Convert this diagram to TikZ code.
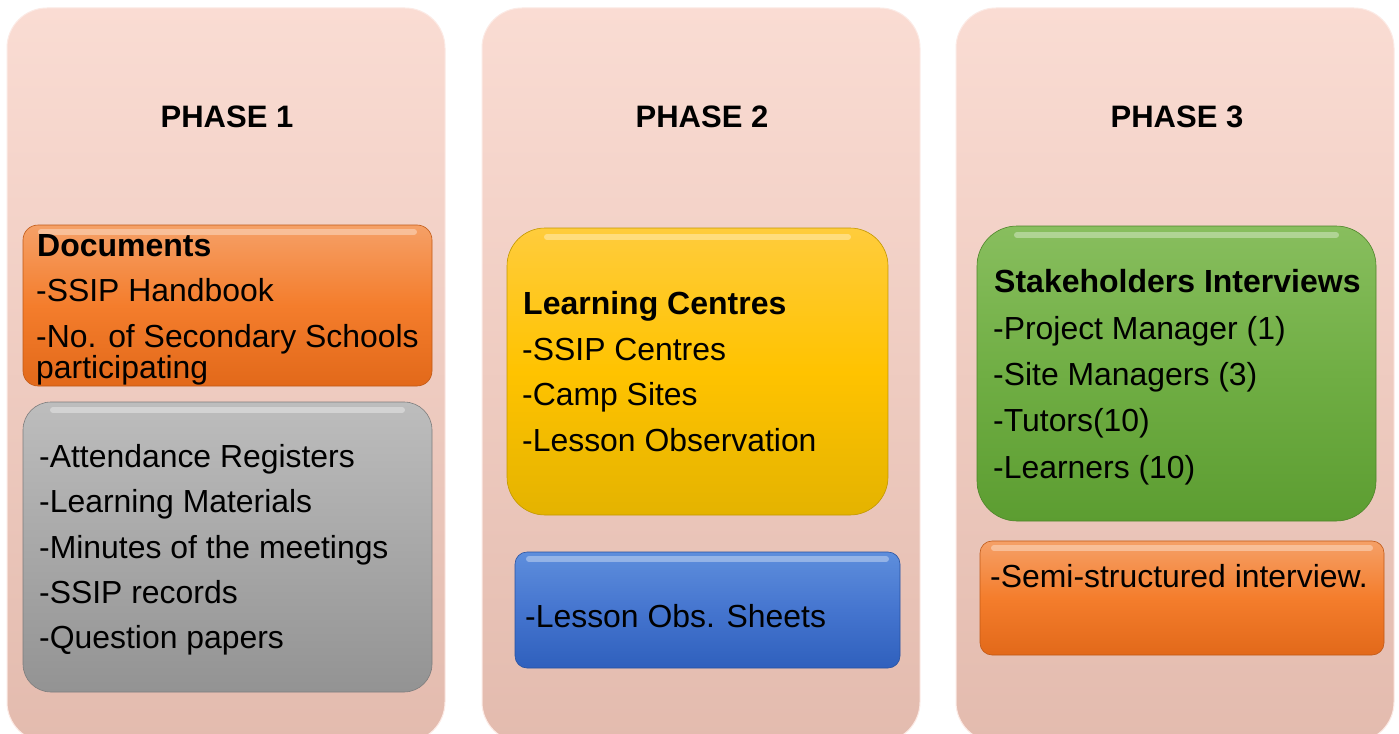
\documentclass[tikz,border=0pt]{standalone}
\usepackage{fontspec}
\setmainfont{Liberation Sans}
\begin{document}
\begin{tikzpicture}[x=1pt,y=-1pt,
  panel/.style={rectangle,rounded corners=40pt,inner sep=0pt,outer sep=0pt,minimum width=438pt,minimum height=734pt,top color=panelTop,bottom color=panelBot,draw=panelTop!60!white,line width=1pt},
  gbox/.style={rectangle,inner sep=0pt,outer sep=0pt,draw=#1Bot!85!black,line width=0.6pt,top color=#1Top,bottom color=#1Bot,middle color=#1Mid},
  phase/.style={font=\fontsize{31}{37}\selectfont\bfseries,inner sep=0pt,anchor=base},
  hd/.style={font=\fontsize{32}{38}\selectfont\bfseries,inner sep=0pt,anchor=base west},
  ln/.style={font=\fontsize{31.9}{38}\selectfont,inner sep=0pt,anchor=base west},
  gloss/.style={white,opacity=0.35,line width=6pt,line cap=round}
]
\definecolor{panelTop}{HTML}{FADCD3}
\definecolor{panelBot}{HTML}{E3BBAE}
\definecolor{orTop}{HTML}{F5A067}
\definecolor{orMid}{HTML}{F47D2C}
\definecolor{orBot}{HTML}{E2691A}
\definecolor{grTop}{HTML}{BDBDBD}
\definecolor{grMid}{HTML}{A8A8A8}
\definecolor{grBot}{HTML}{939393}
\definecolor{yeTop}{HTML}{FFCC3C}
\definecolor{yeMid}{HTML}{FFC300}
\definecolor{yeBot}{HTML}{E4B300}
\definecolor{blTop}{HTML}{5E8EDC}
\definecolor{blMid}{HTML}{4575CF}
\definecolor{blBot}{HTML}{2F60BD}
\definecolor{gnTop}{HTML}{88BE5E}
\definecolor{gnMid}{HTML}{70AE44}
\definecolor{gnBot}{HTML}{5C9D31}

\useasboundingbox (0,0) rectangle (1399,733);
\fill[white] (0,0) rectangle (1399,733);
\begin{scope}
\clip (0,0) rectangle (1399,733);
% panels
\node[panel] (p1) at (226,375) {};
\node[panel] (p2) at (701,375) {};
\node[panel] (p3) at (1175,375) {};

% boxes
\node[gbox=or,rounded corners=15pt,minimum width=409pt,minimum height=161pt] (doc) at (227.5,305.5) {};
\node[gbox=gr,rounded corners=28pt,minimum width=409pt,minimum height=290pt] (gray) at (227.5,547) {};
\node[gbox=ye,rounded corners=38pt,minimum width=381pt,minimum height=287pt] (yel) at (697.5,371.5) {};
\node[gbox=bl,rounded corners=12pt,minimum width=385pt,minimum height=116pt] (blue) at (707.5,610) {};
\node[gbox=gn,rounded corners=40pt,minimum width=399pt,minimum height=295pt] (green) at (1176.5,373.5) {};
\node[gbox=or,rounded corners=12pt,minimum width=404pt,minimum height=114pt] (semi) at (1182,598) {};
\end{scope}

% gloss highlights
\draw[gloss] ([xshift=18pt,yshift=-7pt]doc.north west) -- ([xshift=-18pt,yshift=-7pt]doc.north east);
\draw[gloss] ([xshift=30pt,yshift=-8pt]gray.north west) -- ([xshift=-30pt,yshift=-8pt]gray.north east);
\draw[gloss] ([xshift=40pt,yshift=-9pt]yel.north west) -- ([xshift=-40pt,yshift=-9pt]yel.north east);
\draw[gloss] ([xshift=14pt,yshift=-7pt]blue.north west) -- ([xshift=-14pt,yshift=-7pt]blue.north east);
\draw[gloss] ([xshift=40pt,yshift=-9pt]green.north west) -- ([xshift=-40pt,yshift=-9pt]green.north east);
\draw[gloss] ([xshift=14pt,yshift=-7pt]semi.north west) -- ([xshift=-14pt,yshift=-7pt]semi.north east);

% phase titles
\node[phase] (h1) at (227,128) {PHASE 1};
\node[phase] (h2) at (702,128) {PHASE 2};
\node[phase] (h3) at (1177,128) {PHASE 3};

% phase 1 texts
\node[hd] (d0) at (37,256) {Documents};
\node[ln] (d1) at (36,301) {-SSIP Handbook};
\node[ln] (d2) at (36,347) {-No. of Secondary Schools};
\node[ln] (d3) at (36,378) {participating};

\node[ln] (g1) at (39,467) {-Attendance Registers};
\node[ln] (g2) at (39,512) {-Learning Materials};
\node[ln] (g3) at (39,558) {-Minutes of the meetings};
\node[ln] (g4) at (39,603) {-SSIP records};
\node[ln] (g5) at (39,648) {-Question papers};

% phase 2 texts
\node[hd] (y0) at (523,314) {Learning Centres};
\node[ln] (y1) at (522,360) {-SSIP Centres};
\node[ln] (y2) at (522,405) {-Camp Sites};
\node[ln] (y3) at (522,451) {-Lesson Observation};
\node[ln] (b1) at (525,627) {-Lesson Obs. Sheets};

% phase 3 texts
\node[hd] (s0) at (994,292) {Stakeholders Interviews};
\node[ln] (s1) at (993,339) {-Project Manager (1)};
\node[ln] (s2) at (993,385) {-Site Managers (3)};
\node[ln] (s3) at (993,431) {-Tutors(10)};
\node[ln] (s4) at (993,478) {-Learners (10)};
\node[ln] (o1) at (990,587) {-Semi-structured interview.};
\end{tikzpicture}
\end{document}
